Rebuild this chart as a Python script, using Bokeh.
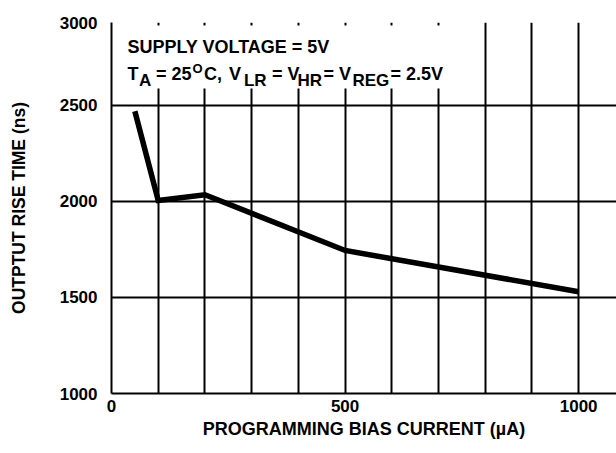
from bokeh.plotting import figure
from bokeh.models import FixedTicker, BoxAnnotation, Label, Range1d
from bokeh.embed import file_html
from bokeh.resources import INLINE

# Data
current_ua = [50, 100, 200, 500, 1000]
rise_ns = [2470, 2005, 2035, 1745, 1530]

x_ticks = [0, 500, 1000]
x_grid = [100, 200, 300, 400, 500, 600, 700, 800, 900, 1000]
y_top = 2932
y_ticks = [1000, 1500, 2000, 2500, y_top]
y_grid = [1500, 2000, 2500, y_top]

FONT = "Liberation Sans"

p = figure(width=616, height=453, x_range=Range1d(0, 1081), y_range=Range1d(1000, y_top),
           output_backend="svg", toolbar_location=None,
           min_border_left=111, min_border_right=0, min_border_top=22, min_border_bottom=60)
p.outline_line_color = None
p.background_fill_color = "white"
p.border_fill_color = "white"

# grid
p.xgrid.ticker = FixedTicker(ticks=x_grid)
p.ygrid.ticker = FixedTicker(ticks=y_grid)
for g in (p.xgrid, p.ygrid):
    g.grid_line_color = "black"
    g.grid_line_width = 2
    g.grid_line_alpha = 1.0

# axes
p.xaxis.ticker = FixedTicker(ticks=x_ticks)
p.yaxis.ticker = FixedTicker(ticks=y_ticks)
p.yaxis.major_label_overrides = {y_top: "3000"}
for ax in (p.xaxis, p.yaxis):
    ax.axis_line_color = "black"
    ax.axis_line_width = 2
    ax.major_tick_line_color = None
    ax.minor_tick_line_color = None
    ax.major_tick_out = 0
    ax.major_tick_in = 0
    ax.major_label_text_font = FONT
    ax.major_label_text_font_style = "bold"
    ax.major_label_text_font_size = "17px"
    ax.major_label_text_color = "black"
    ax.axis_label_text_font = FONT
    ax.axis_label_text_font_style = "bold"
    ax.axis_label_text_color = "black"

p.xaxis.axis_label = "PROGRAMMING BIAS CURRENT (\u00b5A)"
p.yaxis.axis_label = "OUTPTUT RISE TIME (ns)"
p.xaxis.axis_label_text_font_size = "18px"
p.yaxis.axis_label_text_font_size = "17.5px"
p.xaxis.major_label_standoff = 6
p.xaxis.axis_label_standoff = 4
p.yaxis.major_label_standoff = 14
p.yaxis.axis_label_standoff = 28

# curve
p.line(current_ua, rise_ns, line_width=5.5, line_color="black", line_join="miter")

# white box behind the conditions text
p.add_layout(BoxAnnotation(left=4, right=715, bottom=2588, top=2916,
                           fill_color="white", fill_alpha=1.0, line_color=None))

def lab(x, y, text, size="18px"):
    p.add_layout(Label(x=x, y=y, text=text, text_font=FONT, text_font_style="bold",
                       text_font_size=size, text_color="black",
                       text_align="left", text_baseline="alphabetic"))

# line 1
lab(34.2, 2803, "SUPPLY VOLTAGE = 5V")
# line 2 with subscripts / superscript
base, sub, sup = 2664, 2630, 2691
lab(34.2, base, "T")
lab(58.8, sub, "A", "17px")
lab(95.2, base, "= 25")
lab(173.3, sup, "O", "13px")
lab(197.9, base, "C,")
lab(251.4, base, "V")
lab(283.5, sub, "LR", "17px")
lab(343.5, base, "= V")
lab(398.0, sub, "HR", "17px")
lab(453.7, base, "= V")
lab(515.7, sub, "REG", "17px")
lab(597.1, base, "= 2.5V")

open("out.html", "w").write(file_html(p, INLINE))
